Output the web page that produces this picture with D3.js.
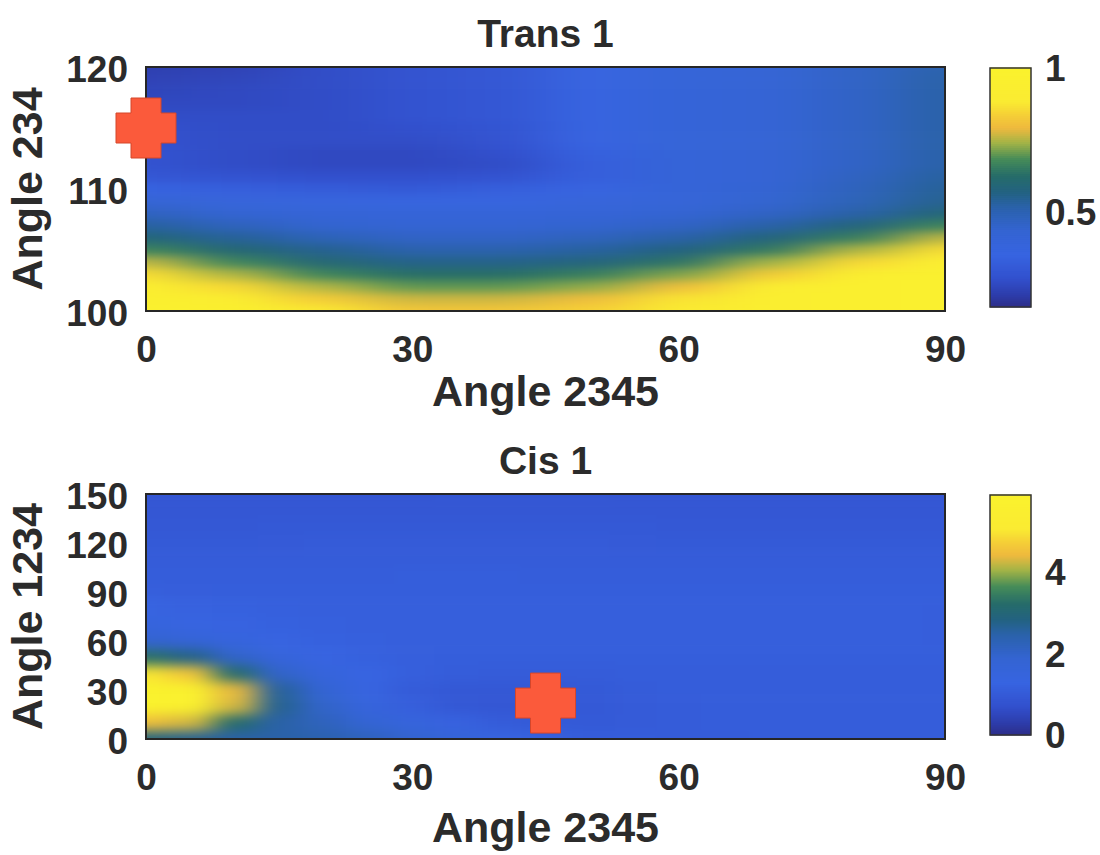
<!DOCTYPE html>
<html>
<head>
<meta charset="utf-8">
<script src="https://cdn.jsdelivr.net/npm/d3@7"></script>
<style>
  body { margin: 0; background: #fff; }
  svg { display: block; }
  text { font-family: "Liberation Sans", Arial, Helvetica, sans-serif; font-weight: bold; fill: #2b2b2b; }
  .tick-label { font-size: 37px; }
  .axis-label { font-size: 43px; }
  .panel-title { font-size: 39px; }
</style>
</head>
<body>
<svg id="fig" width="1100" height="855"></svg>
<script>
// ---- Trans 1: Angle 234 (rows, top to bottom) vs Angle 2345 (columns) ----
const transX = [0, 10, 20, 30, 40, 50, 60, 70, 80, 90];
const transY = [120, 119, 118, 117, 116, 115, 114, 113, 112, 111, 110,
                109, 108, 107, 106, 105, 104, 103, 102, 101, 100];
const transValues = [
  [0.22, 0.23, 0.26, 0.28, 0.30, 0.36, 0.40, 0.42, 0.46, 0.51],
  [0.23, 0.24, 0.26, 0.28, 0.30, 0.36, 0.40, 0.42, 0.46, 0.52],
  [0.24, 0.25, 0.26, 0.28, 0.30, 0.36, 0.40, 0.42, 0.46, 0.52],
  [0.25, 0.25, 0.26, 0.28, 0.30, 0.36, 0.40, 0.42, 0.46, 0.52],
  [0.26, 0.26, 0.26, 0.28, 0.30, 0.36, 0.40, 0.42, 0.46, 0.52],
  [0.27, 0.26, 0.26, 0.27, 0.29, 0.36, 0.40, 0.42, 0.46, 0.52],
  [0.27, 0.26, 0.26, 0.26, 0.28, 0.35, 0.40, 0.42, 0.46, 0.52],
  [0.28, 0.26, 0.25, 0.25, 0.27, 0.34, 0.40, 0.42, 0.46, 0.52],
  [0.28, 0.26, 0.25, 0.25, 0.26, 0.33, 0.40, 0.42, 0.46, 0.52],
  [0.30, 0.28, 0.27, 0.27, 0.28, 0.33, 0.40, 0.42, 0.47, 0.53],
  [0.35, 0.33, 0.32, 0.31, 0.33, 0.36, 0.40, 0.43, 0.48, 0.54],
  [0.42, 0.39, 0.38, 0.37, 0.37, 0.39, 0.41, 0.44, 0.49, 0.55],
  [0.47, 0.43, 0.41, 0.40, 0.40, 0.41, 0.43, 0.46, 0.52, 0.59],
  [0.53, 0.48, 0.44, 0.43, 0.43, 0.44, 0.46, 0.52, 0.58, 0.67],
  [0.59, 0.54, 0.49, 0.46, 0.46, 0.48, 0.52, 0.58, 0.66, 0.76],
  [0.67, 0.60, 0.55, 0.51, 0.51, 0.53, 0.57, 0.65, 0.75, 0.86],
  [0.76, 0.67, 0.60, 0.56, 0.56, 0.58, 0.64, 0.74, 0.85, 0.93],
  [0.86, 0.75, 0.67, 0.63, 0.63, 0.66, 0.72, 0.83, 0.93, 0.96],
  [0.93, 0.85, 0.75, 0.70, 0.70, 0.73, 0.80, 0.91, 0.95, 0.96],
  [0.955, 0.92, 0.83, 0.77, 0.77, 0.80, 0.87, 0.94, 0.95, 0.96],
  [0.96, 0.95, 0.88, 0.82, 0.82, 0.84, 0.89, 0.94, 0.95, 0.96]
];
const transMarker = [0, 115];
const transRange = [0.17, 1];
const transYTicks = [100, 110, 120];
const transBarTicks = [0.5, 1];
const transBarLabels = ["0.5", "1"];

// ---- Cis 1: Angle 1234 (rows, top to bottom) vs Angle 2345 (columns) ----
const cisX = [0, 5, 10, 15, 20, 25, 30, 35, 40, 45, 50, 55, 60, 65, 70, 75, 80, 85, 90];
const cisY = [150, 140, 130, 120, 110, 100, 90, 80, 70, 60, 50, 40, 30, 20, 10, 0];
const cisValues = [
  [0.85, 0.85, 0.85, 0.86, 0.86, 0.87, 0.87, 0.88, 0.88, 0.88, 0.88, 0.87, 0.87, 0.86, 0.86, 0.86, 0.86, 0.86, 0.86],
  [0.90, 0.90, 0.90, 0.90, 0.91, 0.91, 0.92, 0.92, 0.92, 0.92, 0.92, 0.91, 0.91, 0.90, 0.90, 0.90, 0.90, 0.90, 0.90],
  [0.95, 0.95, 0.95, 0.96, 0.96, 0.97, 0.97, 0.97, 0.97, 0.97, 0.96, 0.96, 0.95, 0.95, 0.95, 0.95, 0.95, 0.95, 0.95],
  [1.00, 1.00, 1.00, 1.01, 1.02, 1.02, 1.03, 1.03, 1.03, 1.02, 1.02, 1.01, 1.00, 1.00, 1.00, 1.00, 1.00, 1.00, 1.00],
  [1.05, 1.05, 1.05, 1.06, 1.06, 1.07, 1.07, 1.07, 1.07, 1.07, 1.06, 1.06, 1.05, 1.05, 1.05, 1.05, 1.05, 1.05, 1.05],
  [1.10, 1.10, 1.10, 1.10, 1.10, 1.10, 1.11, 1.11, 1.11, 1.10, 1.10, 1.10, 1.10, 1.10, 1.10, 1.10, 1.10, 1.10, 1.10],
  [1.14, 1.13, 1.12, 1.12, 1.12, 1.12, 1.12, 1.12, 1.12, 1.12, 1.12, 1.12, 1.12, 1.12, 1.12, 1.12, 1.12, 1.12, 1.12],
  [1.30, 1.25, 1.20, 1.17, 1.15, 1.15, 1.14, 1.14, 1.14, 1.14, 1.14, 1.14, 1.14, 1.14, 1.14, 1.14, 1.14, 1.14, 1.13],
  [1.45, 1.35, 1.28, 1.22, 1.18, 1.15, 1.15, 1.15, 1.15, 1.15, 1.15, 1.15, 1.15, 1.15, 1.15, 1.15, 1.15, 1.14, 1.13],
  [1.90, 1.70, 1.45, 1.30, 1.22, 1.18, 1.15, 1.15, 1.15, 1.15, 1.15, 1.15, 1.15, 1.15, 1.15, 1.15, 1.15, 1.14, 1.13],
  [3.30, 2.80, 2.00, 1.55, 1.30, 1.20, 1.15, 1.12, 1.12, 1.12, 1.12, 1.12, 1.12, 1.12, 1.12, 1.12, 1.12, 1.12, 1.12],
  [5.00, 4.60, 3.20, 2.00, 1.55, 1.30, 1.15, 1.08, 1.05, 1.05, 1.07, 1.10, 1.10, 1.10, 1.10, 1.10, 1.10, 1.10, 1.10],
  [5.90, 5.75, 4.40, 2.60, 1.80, 1.35, 1.05, 0.95, 0.93, 0.95, 1.00, 1.05, 1.08, 1.10, 1.10, 1.10, 1.10, 1.10, 1.10],
  [5.85, 5.65, 4.30, 2.70, 2.00, 1.50, 1.15, 0.95, 0.90, 0.92, 0.98, 1.02, 1.05, 1.08, 1.10, 1.10, 1.10, 1.10, 1.10],
  [4.50, 4.30, 3.20, 2.50, 2.20, 1.80, 1.50, 1.25, 1.05, 1.00, 1.00, 1.02, 1.05, 1.08, 1.10, 1.10, 1.10, 1.10, 1.10],
  [2.90, 2.70, 2.50, 2.50, 2.40, 2.20, 1.90, 1.60, 1.35, 1.20, 1.10, 1.08, 1.05, 1.05, 1.08, 1.10, 1.10, 1.10, 1.10]
];
const cisMarker = [45, 22];
const cisRange = [0, 5.9];
const cisYTicks = [0, 30, 60, 90, 120, 150];
const cisBarTicks = [0, 2, 4];
const cisBarLabels = ["0", "2", "4"];

// shared x axis
const xDomain = [0, 90];
const xTicks = [0, 30, 60, 90];

// colormap stops (fraction of colour range -> colour)
const parulaStops = [
  [0.00, "#2d2d87"], [0.05, "#2d3caa"], [0.12, "#3250cd"], [0.22, "#3764e1"],
  [0.32, "#3464d2"], [0.42, "#2a62aa"], [0.48, "#236282"], [0.55, "#266c69"],
  [0.62, "#468c58"], [0.69, "#a5b446"], [0.75, "#eeb93e"], [0.80, "#f5cd37"],
  [0.86, "#faeb32"], [1.00, "#faf22d"]
];

const svg = d3.select("#fig");
const defs = svg.append("defs");

// cell edges: midpoints between neighbouring samples, outer cells padded past the frame
function cellBounds(arr, scale, pad) {
  return arr.map((v, i) => {
    const p = scale(v);
    const a = i > 0 ? (p + scale(arr[i - 1])) / 2 : p - Math.sign(scale(arr[1]) - p) * pad;
    const b = i < arr.length - 1 ? (p + scale(arr[i + 1])) / 2 : p + Math.sign(p - scale(arr[i - 1])) * pad;
    return [Math.min(a, b), Math.max(a, b)];
  });
}

function plusPath(s) {
  const h = s / 2, q = s / 4;
  return `M${-q},${-h}H${q}V${-q}H${h}V${q}H${q}V${h}H${-q}V${q}H${-h}V${-q}H${-q}Z`;
}

function drawPanel(p) {
  const x = d3.scaleLinear().domain(xDomain).range([146, 945]);
  const y = d3.scaleLinear().domain(p.yDomain).range([p.bottom, p.top]);
  const span = p.range[1] - p.range[0];
  const color = d3.scaleLinear()
    .domain(parulaStops.map(s => p.range[0] + s[0] * span))
    .range(parulaStops.map(s => s[1]))
    .clamp(true);

  defs.append("clipPath").attr("id", p.id + "-clip")
    .append("rect")
    .attr("x", x(xDomain[0])).attr("y", p.top)
    .attr("width", x(xDomain[1]) - x(xDomain[0])).attr("height", p.bottom - p.top);

  defs.append("filter").attr("id", p.id + "-smooth")
    .attr("filterUnits", "userSpaceOnUse")
    .attr("x", 0).attr("y", 0).attr("width", 1100).attr("height", 855)
    .attr("color-interpolation-filters", "sRGB")
    .append("feGaussianBlur").attr("stdDeviation", p.blur);

  const xb = cellBounds(p.xs, x, 140);
  const yb = cellBounds(p.ys, y, 50);
  const cells = [];
  p.values.forEach((row, i) => row.forEach((v, j) => cells.push({ i, j, v })));

  const g = svg.append("g");
  g.append("g").attr("clip-path", `url(#${p.id}-clip)`)
    .append("g").attr("filter", `url(#${p.id}-smooth)`)
    .selectAll("rect").data(cells).join("rect")
    .attr("x", d => xb[d.j][0])
    .attr("y", d => yb[d.i][0])
    .attr("width", d => xb[d.j][1] - xb[d.j][0] + 0.6)
    .attr("height", d => yb[d.i][1] - yb[d.i][0] + 0.6)
    .attr("fill", d => color(d.v));

  // frame
  g.append("rect")
    .attr("x", x(xDomain[0])).attr("y", p.top)
    .attr("width", x(xDomain[1]) - x(xDomain[0])).attr("height", p.bottom - p.top)
    .attr("fill", "none").attr("stroke", "#262626").attr("stroke-width", 2);

  // axes
  const xa = g.append("g").attr("transform", `translate(0,${p.bottom})`)
    .call(d3.axisBottom(x).tickValues(xTicks).tickSize(0).tickPadding(25).tickFormat(d3.format("d")));
  xa.select(".domain").remove();
  xa.selectAll("text").attr("class", "tick-label");

  const ya = g.append("g").attr("transform", `translate(${x(xDomain[0])},0)`)
    .call(d3.axisLeft(y).tickValues(p.yTicks).tickSize(0).tickPadding(18).tickFormat(d3.format("d")));
  ya.select(".domain").remove();
  ya.selectAll("text").attr("class", "tick-label").attr("dy", "0.40em");

  // titles and labels
  const cx = (x(xDomain[0]) + x(xDomain[1])) / 2;
  g.append("text").attr("class", "panel-title").attr("x", cx).attr("y", p.top - 20)
    .attr("text-anchor", "middle").text(p.title);
  g.append("text").attr("class", "axis-label").attr("x", cx).attr("y", p.bottom + p.xLabelGap)
    .attr("text-anchor", "middle").text("Angle 2345");
  g.append("text").attr("class", "axis-label")
    .attr("transform", `translate(42,${(p.top + p.bottom) / 2}) rotate(-90)`)
    .attr("text-anchor", "middle").text(p.yLabel);

  // colorbar
  const cb = { x: 990, w: 41, top: p.barTop, bottom: p.barBottom };
  const cy = d3.scaleLinear().domain(p.range).range([cb.bottom, cb.top]);
  const steps = d3.range(0, 120).map(k => p.range[0] + (k / 120) * span);
  const stepH = (cb.bottom - cb.top) / 120;
  g.append("g").selectAll("rect").data(steps).join("rect")
    .attr("x", cb.x).attr("width", cb.w)
    .attr("y", d => cy(d) - stepH - 0.5).attr("height", stepH + 1)
    .attr("fill", d => color(d + span / 240));
  g.append("rect").attr("x", cb.x).attr("y", cb.top).attr("width", cb.w).attr("height", cb.bottom - cb.top)
    .attr("fill", "none").attr("stroke", "#333").attr("stroke-width", 1.5);
  const ca = g.append("g").attr("transform", `translate(${cb.x + cb.w},0)`)
    .call(d3.axisRight(cy).tickValues(p.barTicks).tickSize(0).tickPadding(14)
      .tickFormat((d, i) => p.barLabels[i]));
  ca.select(".domain").remove();
  ca.selectAll("text").attr("class", "tick-label").attr("dy", "0.34em");

  // marker
  g.append("path")
    .attr("d", plusPath(60))
    .attr("transform", `translate(${x(p.marker[0])},${y(p.marker[1])})`)
    .attr("fill", "#fb5a3b").attr("stroke", "#d4462b").attr("stroke-width", 1);
}

drawPanel({
  id: "trans", title: "Trans 1", yLabel: "Angle 234",
  xs: transX, ys: transY, values: transValues, range: transRange,
  yDomain: [100, 120], yTicks: transYTicks, top: 67, bottom: 311, xLabelGap: 95,
  barTop: 68, barBottom: 307, barTicks: transBarTicks, barLabels: transBarLabels,
  marker: transMarker, blur: "30 4"
});

drawPanel({
  id: "cis", title: "Cis 1", yLabel: "Angle 1234",
  xs: cisX, ys: cisY, values: cisValues, range: cisRange,
  yDomain: [0, 150], yTicks: cisYTicks, top: 494, bottom: 739, xLabelGap: 103,
  barTop: 495, barBottom: 735, barTicks: cisBarTicks, barLabels: cisBarLabels,
  marker: cisMarker, blur: "14 6"
});
</script>
</body>
</html>
